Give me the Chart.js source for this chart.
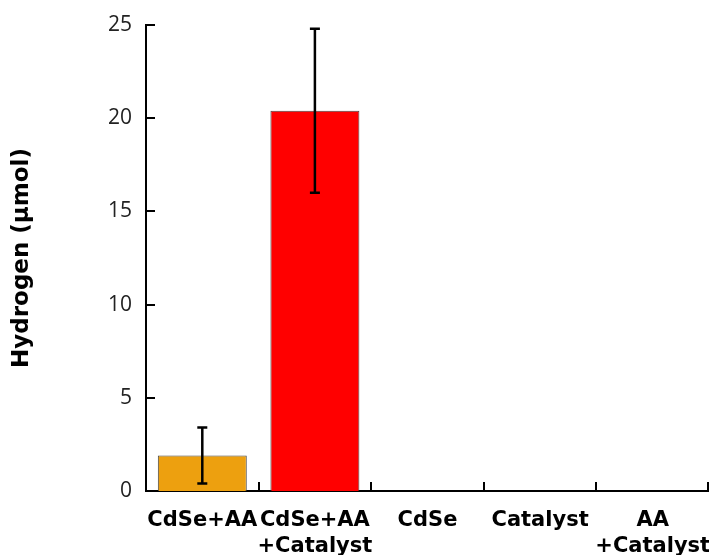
<!DOCTYPE html>
<html>
<head>
<meta charset="utf-8">
<script src="https://cdn.jsdelivr.net/npm/chart.js@4"></script>
<style>
  html, body { margin: 0; padding: 0; background: #fff; }
  #wrap { width: 709px; height: 555px; }
</style>
</head>
<body>
<div id="wrap"><canvas id="chart" width="709" height="555"></canvas></div>
<script>
const categories = [["CdSe+AA"], ["CdSe+AA", "+Catalyst"], ["CdSe"], ["Catalyst"], ["AA", "+Catalyst"]];
const hydrogen = [1.9, 20.4, 0, 0, 0];
const hydrogenErr = [1.5, 4.4, 0, 0, 0];
const barColors = ["#eda00f", "#ff0000", "#eda00f", "#eda00f", "#eda00f"];
const yTicks = [0, 5, 10, 15, 20, 25];

const ctx = document.getElementById("chart").getContext("2d");

// inward tick marks and error bars
const extrasPlugin = {
  id: "extras",
  afterDatasetsDraw(chart) {
    const { ctx, scales: { x, y }, chartArea } = chart;
    ctx.save();
    ctx.strokeStyle = "#000";
    ctx.lineWidth = 2;
    // y ticks pointing right
    yTicks.forEach((v) => {
      const py = Math.round(y.getPixelForValue(v));
      ctx.beginPath();
      ctx.moveTo(chartArea.left, py);
      ctx.lineTo(chartArea.left + 9, py);
      ctx.stroke();
    });
    // x ticks at category boundaries, pointing up
    for (let i = 1; i <= categories.length; i++) {
      const px = Math.min(Math.round(x.getPixelForValue(i - 0.5)), chart.width - 1);
      ctx.beginPath();
      ctx.moveTo(px, chartArea.bottom);
      ctx.lineTo(px, chartArea.bottom - 9);
      ctx.stroke();
    }
    // error bars
    ctx.lineWidth = 2.5;
    hydrogen.forEach((v, i) => {
      if (!hydrogenErr[i]) return;
      const px = x.getPixelForValue(i);
      const top = y.getPixelForValue(v + hydrogenErr[i]);
      const bot = y.getPixelForValue(v - hydrogenErr[i]);
      ctx.beginPath();
      ctx.moveTo(px, top);
      ctx.lineTo(px, bot);
      ctx.moveTo(px - 5, top);
      ctx.lineTo(px + 5, top);
      ctx.moveTo(px - 5, bot);
      ctx.lineTo(px + 5, bot);
      ctx.stroke();
    });
    ctx.restore();
  },
};

new Chart(ctx, {
  type: "bar",
  data: {
    labels: categories,
    datasets: [
      {
        data: hydrogen,
        backgroundColor: barColors,
        borderColor: "#444",
        borderWidth: (c) => (c.raw > 0 ? 1 : 0),
        borderSkipped: "bottom",
        barPercentage: 0.79,
        categoryPercentage: 1,
      },
    ],
  },
  options: {
    responsive: false,
    animation: false,
    layout: { padding: { top: 25, right: 0, left: 0, bottom: 0 } },
    plugins: { legend: { display: false }, tooltip: { enabled: false } },
    scales: {
      x: {
        grid: { display: false },
        border: { display: true, color: "#000", width: 2 },
        ticks: {
          color: "#000",
          padding: 8,
          maxRotation: 0,
          autoSkip: false,
          font: { family: "'DejaVu Sans'", size: 21, weight: "bold", lineHeight: 1.25 },
        },
        afterFit(scale) {
          scale.height = 64;
          scale.paddingLeft = 0;
          scale.paddingRight = 0;
        },
      },
      y: {
        min: 0,
        max: 25,
        grid: { display: false },
        border: { display: true, color: "#000", width: 2 },
        ticks: {
          stepSize: 5,
          color: "#222",
          padding: 6,
          font: { family: "'Open Sans'", size: 21 },
        },
        title: {
          display: true,
          text: "Hydrogen (\u03bcmol)",
          color: "#000",
          padding: { top: 8, bottom: 0 },
          font: { family: "'DejaVu Sans'", size: 23, weight: "bold" },
        },
        afterFit(scale) {
          scale.width = 146;
        },
      },
    },
  },
  plugins: [extrasPlugin],
});
</script>
</body>
</html>
